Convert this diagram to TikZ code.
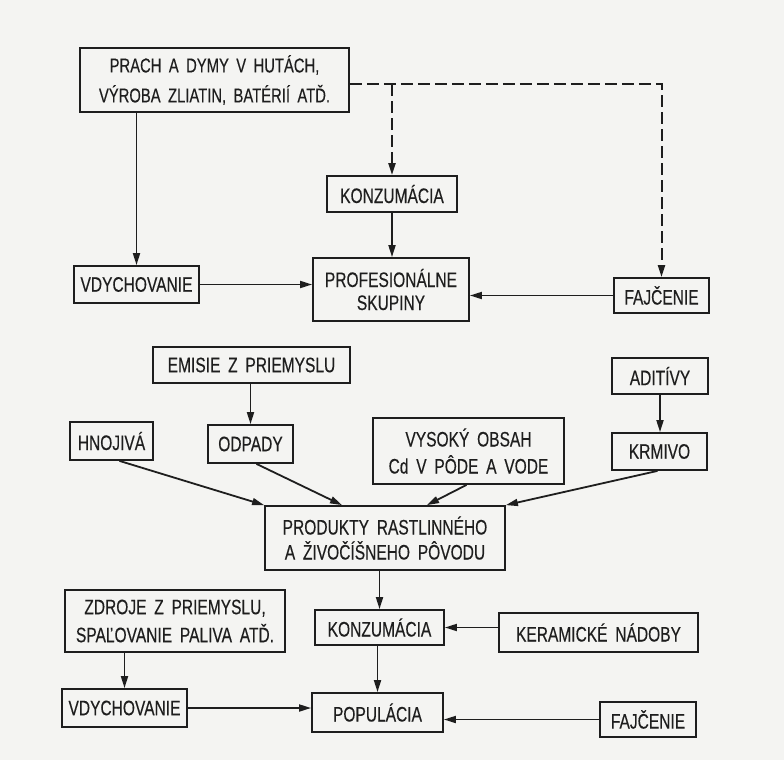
\documentclass[tikz,border=0pt]{standalone}
\usepackage{fontspec}
\setmainfont{Liberation Sans}[FakeStretch=0.74,WordSpace=1.8,FakeBold=0.3]
\usetikzlibrary{arrows.meta}
\definecolor{paper}{RGB}{244,244,242}
\definecolor{ink}{RGB}{30,30,30}
\tikzset{
  box/.style={draw=ink,line width=1.8pt,text=ink,inner sep=0pt,align=center,
    font=\fontsize{21}{26}\selectfont},
  tip/.style={-{Triangle[length=12pt,width=7pt]}},
  arr/.style={draw=ink,line width=1.8pt,tip},
  dsh/.style={draw=ink,line width=2pt,dash pattern=on 12pt off 5pt,tip}
}
\begin{document}
\begin{tikzpicture}[x=1pt,y=-1pt]
\fill[paper] (0,0) rectangle (784,760);
\useasboundingbox (0,0) rectangle (784,760);

% upper part: occupational exposure
\node[box,minimum width=269pt,minimum height=64pt,font=\fontsize{20}{30}\selectfont] (src1) at (214.5,80)
  {PRACH A DYMY V HUTÁCH,\\VÝROBA ZLIATIN, BATÉRIÍ ATĎ.};
\node[box,minimum width=130pt,minimum height=36pt] (konz1) at (392,194) {KONZUMÁCIA};
\node[box,minimum width=125pt,minimum height=37pt] (vdych1) at (136.5,284.5) {VDYCHOVANIE};
\node[box,minimum width=156pt,minimum height=63pt,font=\fontsize{21}{23}\selectfont] (prof) at (391,289.5)
  {PROFESIONÁLNE\\SKUPINY};
\node[box,minimum width=95pt,minimum height=35pt] (faj1) at (661.5,295.5) {FAJČENIE};

% middle part: sources in food
\node[box,minimum width=197pt,minimum height=36pt] (emisie) at (251.5,365) {EMISIE Z PRIEMYSLU};
\node[box,minimum width=96pt,minimum height=36pt] (aditivy) at (660,376) {ADITÍVY};
\node[box,minimum width=83pt,minimum height=38pt] (hnojiva) at (111.5,441) {HNOJIVÁ};
\node[box,minimum width=85pt,minimum height=38pt] (odpady) at (250.5,444) {ODPADY};
\node[box,minimum width=191pt,minimum height=66pt,font=\fontsize{21}{27}\selectfont] (vysoky) at (468.5,451)
  {VYSOKÝ OBSAH\\Cd V PÔDE A VODE};
\node[box,minimum width=95pt,minimum height=37pt] (krmivo) at (659.5,451.5) {KRMIVO};
\node[box,minimum width=240pt,minimum height=64pt,font=\fontsize{21}{25}\selectfont] (produkty) at (385,538)
  {PRODUKTY RASTLINNÉHO\\A ŽIVOČÍŠNEHO PÔVODU};

% lower part: general population
\node[box,minimum width=220pt,minimum height=62pt,font=\fontsize{21}{28}\selectfont] (zdroje) at (175,621)
  {ZDROJE Z PRIEMYSLU,\\SPAĽOVANIE PALIVA ATĎ.};
\node[box,minimum width=129pt,minimum height=35pt] (konz2) at (379.5,627.5) {KONZUMÁCIA};
\node[box,minimum width=199pt,minimum height=39pt] (keram) at (598.5,632.5) {KERAMICKÉ NÁDOBY};
\node[box,minimum width=125pt,minimum height=38pt] (vdych2) at (124.5,708) {VDYCHOVANIE};
\node[box,minimum width=131pt,minimum height=39pt] (popul) at (377.5,712.5) {POPULÁCIA};
\node[box,minimum width=96pt,minimum height=35pt] (faj2) at (648,719.5) {FAJČENIE};

% connectors, upper part
\coordinate (d) at ([yshift=-4pt]src1.east);
\draw[arr] (vdych1.north |- src1.south) -- (vdych1.north);
\draw[dsh] (d) -| (faj1.north);
\draw[dsh] (d -| konz1.north) -- (konz1.north);
\draw[arr] (konz1.south) -- (konz1.south |- prof.north);
\draw[arr] (vdych1.east) -- (vdych1.east -| prof.west);
\draw[arr] (faj1.west) -- (faj1.west -| prof.east);

% connectors, middle part
\draw[arr] (odpady.north |- emisie.south) -- (odpady.north);
\draw[arr] (aditivy.south) -- (aditivy.south |- krmivo.north);
\draw[arr] ([xshift=8pt]hnojiva.south) -- (produkty.north west);
\draw[arr] ([xshift=6pt]odpady.south) -- ([xshift=-43pt]produkty.north);
\draw[arr] ([xshift=-2pt]vysoky.south) -- ([xshift=42pt]produkty.north);
\draw[arr] ([xshift=-2pt]krmivo.south) -- (produkty.north east);

% connectors, lower part
\draw[arr] (konz2.north |- produkty.south) -- (konz2.north);
\draw[arr] (vdych2.north |- zdroje.south) -- (vdych2.north);
\draw[arr] (konz2.east -| keram.west) -- (konz2.east);
\draw[arr] ([xshift=-2pt]konz2.south) -- ([xshift=-2pt]konz2.south |- popul.north);
\draw[arr] (vdych2.east) -- (vdych2.east -| popul.west);
\draw[arr] (faj2.west) -- (faj2.west -| popul.east);
\end{tikzpicture}
\end{document}
